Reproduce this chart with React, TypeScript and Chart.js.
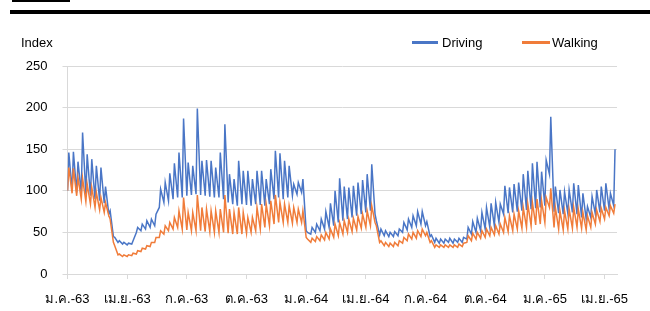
import React, { useEffect, useRef } from 'react';
import { Chart, registerables } from 'chart.js';

Chart.register(...registerables);

// Quarter tick labels on the x axis (Thai month abbreviations, Buddhist-era years)
const quarterLabels = ['ม.ค.-63', 'เม.ย.-63', 'ก.ค.-63', 'ต.ค.-63', 'ม.ค.-64', 'เม.ย.-64', 'ก.ค.-64', 'ต.ค.-64', 'ม.ค.-65', 'เม.ย.-65'];
// Day offsets of those quarter ticks from the first day of data
const quarterTickDays = [0, 91, 182, 273, 364, 455, 546, 637, 728, 819];
const yTickValues = [0, 50, 100, 150, 200, 250];

// Weekly lows (start of each week) and weekly highs of the Driving index
const drivingLow = [
  100, 100, 98, 97, 96, 94, 90, 88, 85, 72,
  45, 38, 36, 35, 36, 50, 52, 54, 56, 58,
  80, 86, 88, 90, 92, 92, 94, 95, 96, 95,
  94, 93, 92, 92, 90, 86, 84, 82, 84, 83,
  82, 84, 83, 82, 84, 90, 92, 90, 92, 94,
  96, 98, 52, 48, 50, 52, 54, 56, 58, 62,
  64, 66, 68, 70, 72, 74, 76, 72, 47, 46,
  45, 45, 46, 50, 53, 56, 58, 60, 58, 45,
  38, 37, 37, 38, 37, 38, 38, 42, 48, 50,
  52, 54, 56, 58, 62, 72, 73, 74, 75, 76,
  77, 78, 79, 80, 82, 120, 75, 73, 72, 73,
  74, 72, 68, 66, 68, 72, 74, 76, 78, 82,
];
const drivingHigh = [
  146, 147, 135, 170, 144, 138, 130, 128, 105, 76,
  44, 40, 38, 37, 40, 56, 60, 64, 66, 72,
  102, 110, 121, 133, 146, 187, 134, 130, 199, 136,
  137, 136, 128, 146, 180, 120, 114, 136, 124, 124,
  114, 124, 124, 114, 126, 148, 145, 136, 130, 108,
  110, 114, 50, 56, 60, 66, 75, 85, 100, 115,
  105, 104, 106, 110, 113, 120, 132, 64, 54, 52,
  50, 51, 54, 62, 66, 70, 75, 75, 63, 47,
  43, 42, 42, 43, 42, 43, 44, 56, 63, 67,
  74, 80, 85, 86, 84, 106, 104, 108, 110, 120,
  124, 133, 135, 123, 137, 189, 105, 101, 99, 101,
  109, 107, 97, 81, 93, 101, 105, 109, 97, 150,
];

// Weekly lows and highs of the Walking index
const walkingLow = [
  100, 97, 94, 90, 87, 84, 80, 77, 74, 70,
  38, 23, 21, 21, 22, 24, 27, 30, 33, 38,
  44, 48, 52, 54, 56, 54, 53, 52, 52, 52,
  51, 51, 50, 50, 50, 49, 48, 48, 48, 49,
  50, 52, 54, 56, 58, 60, 62, 62, 62, 61,
  62, 62, 44, 38, 39, 40, 41, 42, 44, 46,
  48, 50, 51, 53, 55, 56, 58, 62, 38, 34,
  33, 33, 34, 37, 40, 42, 43, 45, 46, 38,
  32, 32, 32, 32, 32, 32, 33, 38, 40, 42,
  43, 44, 46, 47, 48, 50, 51, 52, 54, 55,
  56, 58, 59, 60, 62, 80, 56, 54, 53, 54,
  55, 56, 55, 53, 56, 60, 63, 66, 70, 73,
];
const walkingHigh = [
  128, 127, 116, 115, 108, 104, 98, 92, 86, 66,
  34, 24, 23, 23, 25, 28, 31, 34, 38, 44,
  52, 58, 62, 68, 76, 92, 74, 74, 95, 80,
  78, 76, 76, 78, 95, 78, 74, 80, 74, 68,
  68, 80, 84, 84, 88, 95, 86, 84, 82, 80,
  78, 76, 42, 43, 45, 47, 50, 54, 60, 62,
  64, 66, 67, 69, 72, 76, 82, 58, 40, 38,
  37, 38, 40, 44, 48, 50, 52, 54, 50, 40,
  35, 35, 35, 35, 35, 36, 37, 46, 49, 50,
  52, 54, 56, 58, 60, 68, 70, 72, 76, 80,
  84, 86, 90, 88, 92, 103, 80, 76, 76, 78,
  80, 78, 74, 70, 74, 77, 79, 80, 82, 84,
];

const DRIVING_COLOR = '#4A76C6';
const WALKING_COLOR = '#F07C3A';
const GRID_COLOR = '#D9D9D9';
const FONT_FAMILY = "'Liberation Sans', Arial, 'Noto Sans', 'DejaVu Sans', sans-serif";

function weeklyPoints(low: number[], high: number[]) {
  const pts: { x: number; y: number }[] = [];
  for (let i = 0; i < low.length; i++) {
    pts.push({ x: i * 7, y: low[i] });
    pts.push({ x: i * 7 + 2, y: high[i] });
  }
  return pts;
}

export default function App() {
  const canvasRef = useRef<HTMLCanvasElement | null>(null);

  useEffect(() => {
    if (!canvasRef.current) return;
    const chart = new Chart(canvasRef.current, {
      type: 'line',
      data: {
        datasets: [
          {
            label: 'Walking',
            data: weeklyPoints(walkingLow, walkingHigh),
            borderColor: WALKING_COLOR,
            borderWidth: 1.5,
            pointRadius: 0,
            tension: 0,
            fill: false,
            order: 0,
          },
          {
            label: 'Driving',
            data: weeklyPoints(drivingLow, drivingHigh),
            borderColor: DRIVING_COLOR,
            borderWidth: 1.5,
            pointRadius: 0,
            tension: 0,
            fill: false,
            order: 1,
          },
        ],
      },
      options: {
        animation: false,
        responsive: false,
        maintainAspectRatio: false,
        layout: { padding: { top: 66, right: 33, left: 0, bottom: 0 } },
        plugins: { legend: { display: false }, tooltip: { enabled: false } },
        scales: {
          x: {
            type: 'linear',
            min: 0,
            max: 838,
            afterFit: (s: any) => { s.height = 37; },
            afterBuildTicks: (s: any) => { s.ticks = quarterTickDays.map((v) => ({ value: v })); },
            grid: { display: true, drawOnChartArea: false, drawTicks: true, tickLength: 5, color: GRID_COLOR },
            border: { display: true, color: GRID_COLOR },
            ticks: {
              autoSkip: false,
              maxRotation: 0,
              padding: 13,
              color: '#000',
              font: { family: FONT_FAMILY, size: 13 },
              callback: (_v: any, i: number) => quarterLabels[i],
            },
          },
          y: {
            min: 0,
            max: 250,
            afterFit: (s: any) => { s.width = 67.5; },
            afterBuildTicks: (s: any) => { s.ticks = yTickValues.map((v) => ({ value: v })); },
            grid: { color: GRID_COLOR, tickLength: 5, drawTicks: true },
            border: { display: true, color: GRID_COLOR },
            ticks: {
              padding: 15,
              color: '#000',
              font: { family: FONT_FAMILY, size: 13 },
            },
          },
        },
      },
    });
    return () => chart.destroy();
  }, []);

  const textStyle: React.CSSProperties = {
    position: 'absolute',
    fontFamily: FONT_FAMILY,
    fontSize: 13,
    lineHeight: '15px',
    color: '#000',
    whiteSpace: 'nowrap',
  };

  return (
    <div style={{ position: 'fixed', left: 0, top: 0, width: 650, height: 311, background: '#fff', overflow: 'hidden' }}>
      <div style={{ position: 'absolute', left: 12, top: 0, width: 58, height: 2, background: '#000' }} />
      <div style={{ position: 'absolute', left: 10, top: 10, width: 640, height: 4, background: '#000' }} />
      <canvas ref={canvasRef} width={650} height={311} style={{ position: 'absolute', left: 0, top: 0, width: 650, height: 311 }} />
      <div style={{ ...textStyle, left: 21, top: 35 }}>Index</div>
      <div style={{ position: 'absolute', left: 412, top: 41, width: 26, height: 3, background: DRIVING_COLOR }} />
      <div style={{ ...textStyle, left: 442, top: 35 }}>Driving</div>
      <div style={{ position: 'absolute', left: 522, top: 41, width: 28, height: 3, background: WALKING_COLOR }} />
      <div style={{ ...textStyle, left: 552, top: 35 }}>Walking</div>
    </div>
  );
}
